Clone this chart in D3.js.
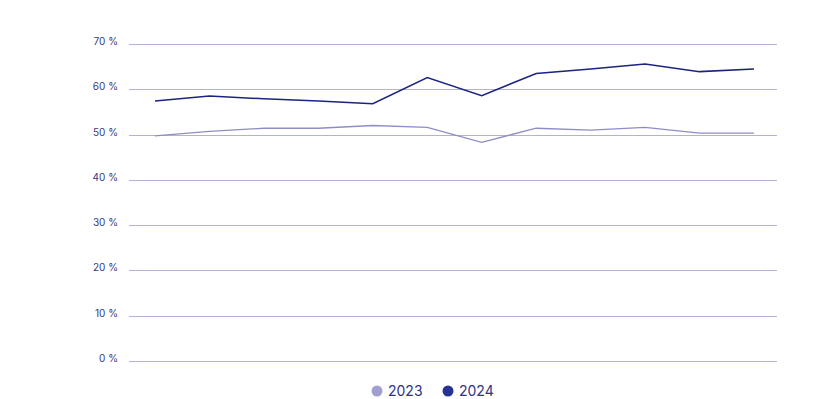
<!DOCTYPE html>
<html><head><meta charset="utf-8">
<script src="https://cdn.jsdelivr.net/npm/d3@7"></script>
<style>body{margin:0;background:#fff}svg{display:block}</style>
</head><body>
<svg id="c" width="839" height="399"></svg>
<script>
const categories = ["1","2","3","4","5","6","7","8","9","10","11","12"];
const values2023 = [49.7,50.7,51.4,51.4,52.0,51.6,48.3,51.4,51.0,51.6,50.3,50.3];
const values2024 = [57.4,58.5,57.9,57.4,56.8,62.6,58.6,63.5,64.5,65.6,63.9,64.5];
const yTicks = [0,10,20,30,40,50,60,70];
const seriesNames = ["2023","2024"];
const seriesColors = ["#8f8dc6","#1c2380"];
const legendColors = ["#a19fd0","#263294"];

(function(){
const svg = d3.select("#c");
const plotLeft = 129, plotRight = 777, plotTop = 44, plotBottom = 361;
const x = d3.scalePoint().domain(categories).range([155, 754]);
const y = d3.scaleLinear().domain([0,70]).range([plotBottom, plotTop]);

const yAxis = d3.axisLeft(y).tickValues(yTicks).tickSize(-(plotRight-plotLeft)).tickFormat(d => d + " %");
const g = svg.append("g").attr("transform", `translate(${plotLeft},0)`).call(yAxis);
g.select(".domain").remove();
g.selectAll(".tick line").attr("stroke", "#b3b1d8").attr("stroke-width", 1).attr("shape-rendering","crispEdges");
g.selectAll(".tick text").attr("x", -11).attr("dy", "0.05em")
  .attr("fill", "#353a80").attr("font-family", "Inter, Lato, sans-serif").attr("font-size", 10);

const line = d3.line().x((d,i) => x(categories[i])).y(d => y(d));
[values2023, values2024].forEach((vals, k) => {
  svg.append("path").datum(vals).attr("d", line).attr("fill","none")
    .attr("stroke", seriesColors[k]).attr("stroke-width", k ? 1.5 : 1.3);
});

const leg = svg.append("g").attr("transform","translate(0,391)");
const legX = [377, 448];
seriesNames.forEach((n, k) => {
  leg.append("circle").attr("cx", legX[k]).attr("cy", 0).attr("r", 5.5).attr("fill", legendColors[k]);
  leg.append("text").attr("x", legX[k] + 11).attr("y", 0).attr("dy","0.36em")
    .attr("font-family","Inter, Lato, sans-serif").attr("font-size", 14).attr("fill","#2e3187").text(n);
});
})();
</script>
</body></html>
